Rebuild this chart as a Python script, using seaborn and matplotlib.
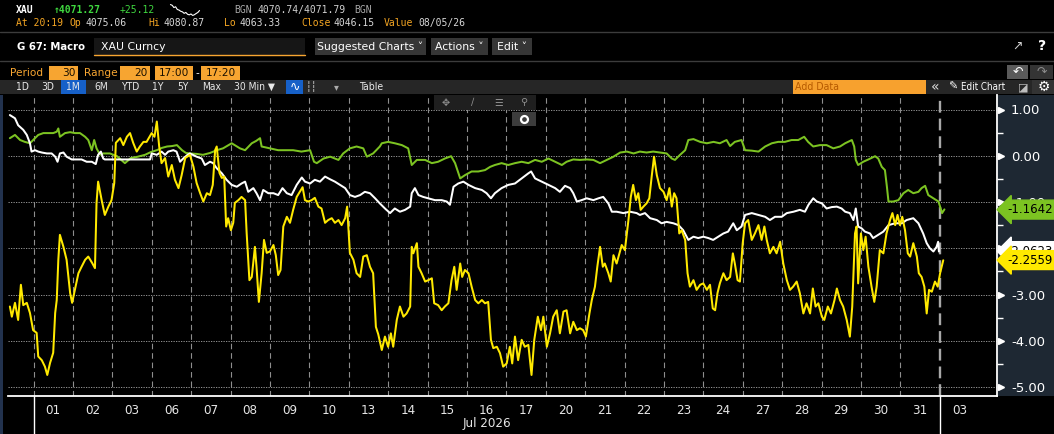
import matplotlib
matplotlib.use("Agg")
import matplotlib.pyplot as plt
from matplotlib.patches import Rectangle
from matplotlib.lines import Line2D
import numpy as np
import pandas as pd
import seaborn as sns


# ---- values ----
# t = trading-session position (0 = start of Jul 01 session, one unit per session)
day_labels = ["01", "02", "03", "06", "07", "08", "09", "10", "13", "14", "15", "16",
              "17", "20", "21", "22", "23", "24", "27", "28", "29", "30", "31", "03"]
month_label = "Jul 2026"
y_ticks = [1.0, 0.0, -1.0, -2.0, -3.0, -4.0, -5.0]
y_minor = [0.5, -0.5, -1.5, -2.5, -3.5, -4.5]
last_green = -1.1642
last_white = -2.0623
last_yellow = -2.2559

yellow_pts = [
    (-0.60, -3.26), (-0.55, -3.48), (-0.47, -3.18), (-0.39, -3.55), (-0.32, -2.79), (-0.26, -3.23), (-0.17, -3.18), (-0.09, -3.40), (-0.01, -3.77),
    (0.08, -3.83), (0.12, -4.34), (0.21, -4.42), (0.29, -4.56), (0.35, -4.74), (0.42, -4.48), (0.50, -4.26), (0.55, -3.40), (0.59, -3.12), (0.63, -2.25), (0.67, -1.71), (0.76, -1.97), (0.84, -2.25), (0.93, -2.97), (0.98, -3.18),
    (1.05, -2.90), (1.14, -2.54), (1.22, -2.40), (1.31, -2.25), (1.39, -2.18), (1.49, -2.32), (1.56, -2.43), (1.60, -1.02), (1.64, -0.56), (1.73, -0.96), (1.81, -1.28), (1.90, -1.10), (1.98, -0.96),
    (2.05, -0.59), (2.09, 0.28), (2.20, 0.38), (2.28, 0.23), (2.37, 0.41), (2.45, 0.49), (2.53, 0.28), (2.62, 0.09), (2.70, 0.20), (2.79, 0.30), (2.87, 0.30),
    (3.00, 0.49), (3.07, 0.41), (3.13, 0.74), (3.19, 0.20), (3.25, -0.16), (3.34, -0.05), (3.42, -0.45), (3.51, -0.20), (3.59, -0.52), (3.68, -0.70), (3.76, -0.42), (3.85, -0.05), (3.97, 0.02),
    (4.06, -0.24), (4.14, -0.59), (4.23, -0.81), (4.31, -0.99), (4.40, -0.81), (4.48, -0.85), (4.55, -0.63), (4.61, 0.12), (4.65, 0.20), (4.72, -0.37), (4.78, -0.48), (4.84, -0.45), (4.89, -1.53), (4.94, -1.35),
    (5.01, -1.61), (5.07, -1.45), (5.11, -1.02), (5.20, -0.96), (5.28, -0.89), (5.37, -0.96), (5.41, -1.67), (5.48, -2.69), (5.54, -2.62), (5.62, -1.97), (5.66, -2.40), (5.72, -3.16), (5.79, -2.54), (5.85, -1.82), (5.92, -2.10),
    (6.00, -2.07), (6.09, -1.93), (6.15, -2.15), (6.21, -2.58), (6.27, -2.47), (6.34, -1.53), (6.43, -1.32), (6.51, -1.45), (6.59, -1.17), (6.68, -0.89), (6.76, -0.78), (6.83, -0.68), (6.89, -0.96), (6.97, -0.99),
    (7.06, -0.96), (7.14, -0.91), (7.23, -1.10), (7.31, -1.14), (7.40, -1.45), (7.48, -1.39), (7.57, -1.35), (7.65, -1.45), (7.74, -1.39), (7.82, -1.50), (7.91, -1.35), (7.96, -1.10),
    (8.03, -2.10), (8.12, -2.25), (8.20, -2.54), (8.29, -2.62), (8.37, -2.18), (8.46, -2.15), (8.54, -2.40), (8.62, -2.54), (8.69, -3.70), (8.75, -3.86), (8.84, -4.20), (8.92, -3.91),
    (9.00, -4.13), (9.07, -3.84), (9.13, -4.13), (9.22, -3.55), (9.30, -3.26), (9.39, -3.48), (9.47, -3.41), (9.56, -3.26), (9.60, -1.97), (9.64, -2.11), (9.73, -1.89), (9.77, -2.40), (9.85, -2.54), (9.94, -2.72),
    (10.02, -2.69), (10.11, -2.65), (10.17, -3.19), (10.27, -3.23), (10.36, -3.34), (10.44, -3.26), (10.53, -3.19), (10.61, -2.69), (10.68, -2.40), (10.74, -2.90), (10.83, -2.33), (10.88, -2.62), (10.95, -2.47),
    (11.04, -2.54), (11.12, -2.83), (11.21, -3.12), (11.29, -3.19), (11.38, -3.12), (11.46, -3.19), (11.54, -3.16), (11.61, -3.98), (11.67, -4.16), (11.76, -4.13), (11.84, -4.27), (11.92, -4.56),
    (12.01, -4.49), (12.09, -4.13), (12.15, -4.49), (12.22, -3.91), (12.30, -4.42), (12.39, -3.98), (12.47, -4.13), (12.56, -4.09), (12.64, -4.74), (12.71, -3.98), (12.80, -3.48), (12.88, -3.77), (12.94, -3.48),
    (13.03, -4.13), (13.11, -3.84), (13.19, -3.48), (13.28, -3.34), (13.36, -3.84), (13.45, -3.37), (13.53, -3.34), (13.62, -3.84), (13.70, -3.59), (13.79, -3.77), (13.87, -3.73), (13.95, -3.77),
    (14.02, -3.91), (14.11, -3.41), (14.17, -3.12), (14.25, -2.83), (14.31, -2.40), (14.38, -1.97), (14.45, -2.40), (14.50, -2.33), (14.59, -2.54), (14.65, -2.72), (14.72, -2.15), (14.80, -2.33), (14.87, -2.11), (14.93, -1.93),
    (15.01, -2.04), (15.10, -1.39), (15.16, -0.89), (15.22, -0.63), (15.29, -0.96), (15.35, -0.81), (15.41, -1.17), (15.48, -1.10), (15.56, -1.03), (15.63, -0.92), (15.69, -0.45), (15.75, -0.02), (15.82, -0.42), (15.90, -0.70), (15.99, -0.78),
    (16.07, -0.96), (16.14, -0.70), (16.20, -1.10), (16.26, -0.81), (16.32, -0.92), (16.39, -1.68), (16.45, -1.61), (16.54, -1.82), (16.60, -2.54), (16.66, -2.83), (16.75, -2.69), (16.83, -2.90), (16.92, -2.79),
    (17.00, -2.76), (17.09, -2.90), (17.17, -2.79), (17.24, -3.30), (17.30, -3.34), (17.36, -2.97), (17.42, -2.76), (17.51, -2.54), (17.59, -2.69), (17.68, -2.62), (17.75, -2.11), (17.80, -2.33), (17.87, -2.69), (17.93, -2.72),
    (18.00, -1.89), (18.06, -1.46), (18.14, -1.39), (18.23, -1.82), (18.31, -1.68), (18.40, -1.50), (18.48, -1.82), (18.55, -1.53), (18.61, -1.82), (18.69, -2.11), (18.78, -1.97), (18.86, -2.11), (18.95, -1.86),
    (19.03, -2.33), (19.12, -2.69), (19.20, -2.90), (19.28, -2.83), (19.37, -2.72), (19.45, -2.97), (19.54, -3.41), (19.62, -3.19), (19.71, -3.41), (19.78, -2.87), (19.85, -3.26), (19.92, -3.19),
    (20.01, -3.48), (20.07, -3.55), (20.16, -3.26), (20.24, -3.41), (20.33, -3.12), (20.39, -2.87), (20.47, -3.12), (20.55, -3.26), (20.64, -3.55), (20.72, -3.91), (20.78, -3.26), (20.85, -1.68), (20.89, -1.53), (20.93, -2.76),
    (21.00, -1.68), (21.06, -2.04), (21.12, -1.75), (21.19, -2.40), (21.27, -2.83), (21.34, -3.16), (21.40, -2.83), (21.48, -2.04), (21.57, -2.11), (21.65, -1.68), (21.74, -1.39), (21.80, -1.24), (21.87, -1.50), (21.93, -1.28), (21.99, -1.50),
    (22.05, -1.32), (22.12, -1.61), (22.19, -2.11), (22.25, -2.18), (22.33, -1.89), (22.42, -2.18), (22.47, -2.54), (22.54, -2.62), (22.61, -2.83), (22.67, -3.41), (22.73, -2.90), (22.80, -2.94), (22.88, -2.72), (22.95, -2.83),
    (23.01, -2.54), (23.09, -2.26),
]

green_pts = [
    (-0.60, 0.38), (-0.47, 0.45), (-0.34, 0.34), (-0.22, 0.30), (-0.09, 0.27), (0.04, 0.38), (0.12, 0.45), (0.25, 0.49), (0.38, 0.49), (0.50, 0.49), (0.59, 0.52), (0.63, 0.59), (0.67, 0.41), (0.80, 0.49), (0.93, 0.51),
    (1.05, 0.49), (1.18, 0.49), (1.31, 0.41), (1.39, 0.34), (1.48, 0.12), (1.54, 0.34), (1.60, 0.16), (1.69, 0.02), (1.77, 0.05), (1.94, 0.05),
    (2.12, -0.01), (2.32, -0.16), (2.47, -0.05), (2.65, -0.02), (2.83, 0.02), (2.98, 0.08),
    (3.13, 0.12), (3.26, 0.17), (3.39, 0.20), (3.52, 0.21), (3.64, 0.23), (3.77, 0.12), (3.87, 0.06), (3.97, 0.05),
    (4.14, 0.04), (4.30, 0.02), (4.48, 0.06), (4.65, 0.12), (4.81, 0.16), (5.03, 0.27), (5.24, 0.16), (5.37, 0.12), (5.54, 0.27), (5.65, 0.32), (5.75, 0.38), (5.79, 0.20),
    (6.00, 0.16), (6.21, 0.12), (6.43, 0.12), (6.59, 0.12), (6.80, 0.09), (7.02, 0.12), (7.12, -0.13), (7.19, -0.16), (7.36, -0.06), (7.53, -0.02), (7.74, -0.09), (7.86, 0.05),
    (8.03, 0.16), (8.20, 0.20), (8.37, 0.16), (8.46, -0.02), (8.62, 0.05), (8.79, 0.20), (8.84, 0.27), (9.00, 0.30), (9.17, 0.27), (9.35, 0.23), (9.51, 0.16), (9.60, -0.20), (9.73, -0.09), (9.94, -0.09),
    (10.11, -0.16), (10.27, -0.13), (10.44, -0.06), (10.60, -0.01), (10.70, -0.16), (10.83, -0.49), (10.95, -0.42), (11.12, -0.34), (11.29, -0.34), (11.46, -0.31), (11.59, -0.24), (11.71, -0.20), (11.88, -0.16),
    (12.05, -0.20), (12.22, -0.16), (12.39, -0.13), (12.56, -0.16), (12.73, -0.09), (12.90, -0.13), (13.07, -0.06), (13.24, -0.13), (13.41, -0.20), (13.53, -0.13), (13.70, -0.08), (13.87, -0.09),
    (14.04, -0.08), (14.21, -0.09), (14.38, -0.16), (14.55, -0.09), (14.72, -0.02), (14.89, 0.07), (15.06, 0.09), (15.23, 0.05), (15.39, 0.09), (15.56, 0.07), (15.73, 0.09), (15.90, 0.07),
    (16.07, 0.05), (16.20, -0.06), (16.28, -0.09), (16.41, 0.02), (16.54, 0.12), (16.62, 0.34), (16.75, 0.36), (16.92, 0.30), (17.09, 0.27), (17.26, 0.30), (17.42, 0.27), (17.59, 0.34), (17.68, 0.21), (17.80, 0.30), (17.97, 0.34),
    (18.06, 0.12), (18.23, 0.11), (18.40, 0.09), (18.57, 0.20), (18.74, 0.27), (18.90, 0.30), (19.07, 0.30), (19.24, 0.34), (19.41, 0.34), (19.56, 0.41), (19.66, 0.30), (19.79, 0.20), (19.96, 0.23),
    (20.13, 0.23), (20.30, 0.16), (20.47, 0.20), (20.60, 0.27), (20.77, 0.34), (20.83, 0.20), (20.87, -0.09), (20.93, -0.20), (21.06, -0.13), (21.19, -0.08), (21.36, -0.01), (21.44, -0.06), (21.53, -0.24), (21.61, -0.31), (21.66, -0.67), (21.70, -0.99), (21.82, -0.99), (21.95, -0.96),
    (22.08, -0.81), (22.20, -0.74), (22.33, -0.81), (22.46, -0.78), (22.54, -0.70), (22.63, -0.65), (22.71, -0.85), (22.84, -0.92), (22.97, -0.99), (23.06, -1.24), (23.12, -1.16),
]

white_pts = [
    (-0.60, 0.88), (-0.47, 0.81), (-0.39, 0.66), (-0.26, 0.56), (-0.17, 0.45), (-0.09, 0.27), (-0.05, 0.09), (0.04, 0.12), (0.12, 0.09), (0.21, 0.07), (0.34, 0.05), (0.46, 0.05), (0.55, -0.02), (0.61, -0.13), (0.67, 0.05), (0.76, 0.07), (0.84, -0.02), (0.97, -0.08),
    (1.10, -0.08), (1.22, -0.08), (1.35, -0.13), (1.48, -0.13), (1.58, -0.18), (1.64, 0.02), (1.71, 0.09), (1.77, -0.06), (1.81, -0.08), (2.96, -0.08),
    (3.00, 0.05), (3.13, 0.02), (3.25, 0.09), (3.34, 0.02), (3.42, 0.09), (3.55, 0.12), (3.63, 0.09), (3.72, -0.13), (3.80, -0.06), (3.91, 0.02), (3.97, 0.05),
    (4.14, -0.02), (4.27, -0.06), (4.35, -0.20), (4.48, -0.13), (4.56, -0.16), (4.65, -0.27), (4.78, -0.38), (4.90, -0.52), (5.03, -0.63), (5.16, -0.67), (5.28, -0.60), (5.37, -0.56), (5.45, -0.78), (5.58, -0.70), (5.66, -0.81), (5.75, -0.96), (5.83, -0.74), (5.96, -0.81),
    (6.09, -0.81), (6.21, -0.85), (6.32, -0.70), (6.43, -0.81), (6.55, -0.85), (6.68, -0.63), (6.81, -0.47), (6.89, -0.56), (7.02, -0.60), (7.14, -0.52), (7.27, -0.56), (7.40, -0.45), (7.53, -0.51), (7.65, -0.56), (7.78, -0.63), (7.91, -0.70),
    (8.03, -0.85), (8.16, -0.89), (8.29, -0.85), (8.41, -0.78), (8.54, -0.81), (8.67, -0.92), (8.79, -1.03), (8.92, -1.14), (9.05, -1.24), (9.17, -1.14), (9.30, -1.21), (9.43, -1.17), (9.56, -1.10), (9.60, -0.81), (9.68, -0.70), (9.77, -0.85), (9.89, -0.89),
    (10.02, -0.92), (10.19, -0.96), (10.36, -0.96), (10.49, -0.99), (10.57, -1.06), (10.66, -0.67), (10.78, -0.60), (10.91, -0.56), (11.04, -0.63), (11.21, -0.70), (11.38, -0.74), (11.50, -0.81), (11.61, -0.92), (11.71, -0.81), (11.88, -0.70),
    (12.05, -0.63), (12.22, -0.60), (12.39, -0.49), (12.56, -0.38), (12.63, -0.34), (12.73, -0.49), (12.90, -0.56), (13.07, -0.63), (13.24, -0.70), (13.36, -0.78), (13.49, -0.65), (13.62, -0.70), (13.70, -0.81), (13.79, -0.99), (13.91, -0.96),
    (14.04, -0.92), (14.21, -0.96), (14.34, -0.92), (14.46, -0.89), (14.59, -1.03), (14.68, -1.21), (14.80, -1.21), (14.97, -1.24), (15.14, -1.21), (15.31, -1.24), (15.39, -1.28), (15.52, -1.24), (15.65, -1.35), (15.82, -1.39), (15.94, -1.46),
    (16.07, -1.43), (16.24, -1.46), (16.37, -1.50), (16.49, -1.61), (16.62, -1.82), (16.75, -1.75), (16.87, -1.78), (17.00, -1.75), (17.13, -1.78), (17.25, -1.82), (17.38, -1.75), (17.51, -1.68), (17.63, -1.64), (17.76, -1.46), (17.85, -1.61), (17.97, -1.53),
    (18.06, -1.28), (18.23, -1.24), (18.40, -1.28), (18.57, -1.32), (18.69, -1.39), (18.82, -1.32), (18.99, -1.32), (19.12, -1.24), (19.29, -1.21), (19.45, -1.17), (19.58, -1.21), (19.67, -1.06), (19.79, -0.92), (19.88, -0.99),
    (20.01, -1.03), (20.13, -1.14), (20.26, -1.11), (20.39, -1.10), (20.51, -1.14), (20.60, -1.21), (20.72, -1.24), (20.81, -1.39), (20.87, -1.14), (20.93, -1.53), (21.02, -1.57), (21.10, -1.64), (21.23, -1.68), (21.31, -1.78), (21.44, -1.71), (21.57, -1.64), (21.70, -1.50), (21.87, -1.46),
    (22.04, -1.46), (22.16, -1.39), (22.33, -1.35), (22.46, -1.46), (22.58, -1.68), (22.67, -1.89), (22.75, -2.00), (22.84, -2.07), (22.92, -1.97), (22.96, -1.86), (22.98, -2.07),
]

# tiny intraday sparkline next to the quote
spark = [0.95, 0.9, 0.75, 0.8, 0.62, 0.58, 0.5, 0.46, 0.36, 0.42, 0.3, 0.26, 0.32, 0.22, 0.27, 0.35, 0.42, 0.55]

# header strings
quote_row = [("XAU", "white", 16), ("\u21914071.27", "#3fd83f", 54), ("+25.12", "#3fd83f", 120),
             ("BGN", "#a8a8a8", 234), ("4070.74/4071.79", "#d0d0d0", 258), ("BGN", "#a8a8a8", 354)]
stats_row = [("At 20:19", "#f5a623", 16), ("Op", "#f5a623", 70), ("4075.06", "#d8d8d8", 86),
             ("Hi", "#f5a623", 148), ("4080.87", "#d8d8d8", 163), ("Lo", "#f5a623", 224),
             ("4063.33", "#d8d8d8", 239), ("Close", "#f5a623", 301), ("4046.15", "#d8d8d8", 333),
             ("Value", "#f5a623", 384), ("08/05/26", "#d8d8d8", 418)]
period_list = ["1D", "3D", "1M", "6M", "YTD", "1Y", "5Y", "Max", "30 Min \u25bc"]


W, H = 1054, 434
ORANGE = "#f7a531"


def fx(x):
    return x / W


def fy(y):
    return 1 - y / H


def box(x0, y0, x1, y1, color, z=2):
    fig.add_artist(Rectangle((fx(x0), fy(y1)), fx(x1) - fx(x0), fy(y0) - fy(y1),
                             transform=fig.transFigure, facecolor=color, edgecolor="none", zorder=z))


def label(x, y, s, color="white", size=8, z=3, **kw):
    fig.text(fx(x), fy(y), s, color=color, fontsize=size, va="center", zorder=z, **kw)


sns.set_theme(style="dark", rc={"axes.facecolor": "black", "figure.facecolor": "black"})
plt.rcParams["font.family"] = ["DejaVu Sans"]
NARROW = ["Liberation Sans Narrow", "DejaVu Sans"]
MONO = ["DejaVu Sans Mono"]

fig = plt.figure(figsize=(W / 100, H / 100), dpi=100)
fig.patch.set_facecolor("black")

# ---- main chart ----
px_left, px_right, px_top, px_bot = 8, 997, 95, 396
x_origin, x_step = 33.5, 39.4          # pixel of session 0 and pixels per session
y_zero, y_step = 155.75, 46.25         # pixel of 0.00 and pixels per unit

ax = fig.add_axes([fx(px_left), fy(px_bot), (px_right - px_left) / W, (px_bot - px_top) / H])
ax.set_facecolor("black")
ax.grid(False)

for v in y_ticks:
    ax.axhline(v, color="#a8a8a8", lw=0.6, ls=(0, (1.5, 1.5)), zorder=1)
for k in range(len(day_labels)):
    if k == len(day_labels) - 1:
        ax.axvline(k, color="#a8a8a8", lw=1.7, ls=(0, (5, 2.5)), zorder=1)
    else:
        ax.axvline(k, color="#8e8e8e", lw=0.8, ls=(0, (5, 3.5)), zorder=1)

for pts, col in [(green_pts, "#7cc322"), (white_pts, "#ffffff"), (yellow_pts, "#ffe900")]:
    df = pd.DataFrame(pts, columns=["t", "v"])
    sns.lineplot(data=df, x="t", y="v", ax=ax, color=col, lw=1.45,
                 estimator=None, sort=False, zorder=3)

ax.set_xlim((px_left - x_origin) / x_step, (px_right - x_origin) / x_step)
ax.set_ylim((y_zero - px_bot) / y_step, (y_zero - px_top) / y_step)
ax.set_xlabel("")
ax.set_ylabel("")

ax.set_xticks([k + 0.5 for k in range(len(day_labels))])
ax.set_xticklabels(day_labels, fontfamily=NARROW, fontstretch="condensed")
ax.tick_params(axis="x", length=0, pad=6, colors="#e6e6e6", labelsize=9.5)

ax.yaxis.tick_right()
ax.set_yticks(y_ticks)
ax.set_yticklabels([f"{v:.2f}" for v in y_ticks])
ax.set_yticks(y_minor, minor=True)
ax.tick_params(axis="y", which="major", length=0, pad=10, colors="white", labelsize=9.5)
ax.tick_params(axis="y", which="minor", length=4, width=1, color="white", direction="out")
ax.plot([1.004] * len(y_ticks), y_ticks, transform=ax.get_yaxis_transform(), ls="none",
        marker=">", ms=5, color="white", clip_on=False, zorder=6)

for s in ["top", "left"]:
    ax.spines[s].set_visible(False)
for s in ["bottom", "right"]:
    ax.spines[s].set_color("white")
    ax.spines[s].set_linewidth(1.3)

below = -(H - px_bot) / (px_bot - px_top)
for k in [0, len(day_labels) - 1]:
    ax.plot([k, k], [0, below], transform=ax.get_xaxis_transform(), color="white",
            lw=1.0, clip_on=False)
ax.text((len(day_labels) - 1) / 2, -(424 - px_bot) / (px_bot - px_top), month_label,
        transform=ax.get_xaxis_transform(), ha="center", va="center", color="#e6e6e6",
        fontsize=9.5, fontfamily=NARROW, fontstretch="condensed")

# last-value tags on the price axis
for v, col in [(last_green, "#7cc322"), (last_white, "#ffffff"), (last_yellow, "#ffe900")]:
    ax.text(1.0105, v, f"{v:.4f}", transform=ax.get_yaxis_transform(), ha="left", va="center",
            fontsize=8.5, color="black", clip_on=False, zorder=8,
            bbox=dict(boxstyle="larrow,pad=0.25", fc=col, ec=col))

# price axis background + window edge
box(998, 95, W, 396, "#1e2833", z=-1)
box(0, 95, 3, H, "#22324e", z=-1)

# ---- header ----
for s, col, x in quote_row:
    weight = "bold" if s in ("XAU", "\u21914071.27") else "normal"
    label(x, 10, s, col, size=7.0, fontweight=weight, family=MONO)
sp = fig.add_axes([fx(169), fy(16), fx(32), 12 / H])
sns.lineplot(x=np.arange(len(spark)), y=spark, ax=sp, color="white", lw=0.8)
sp.axis("off")

for s, col, x in stats_row:
    label(x, 23, s, col, size=7.0, family=MONO)

fig.add_artist(Line2D([0, 1], [fy(32), fy(32)], transform=fig.transFigure, color="#3c3c3c", lw=1))
fig.add_artist(Line2D([0, 1], [fy(61), fy(61)], transform=fig.transFigure, color="#3c3c3c", lw=1))

label(17, 46.5, "G 67: Macro", size=7.3, fontweight="bold")
box(94, 38, 305, 55, "#161616")
fig.add_artist(Line2D([fx(94), fx(305)], [fy(54.5), fy(54.5)], transform=fig.transFigure, color=ORANGE, lw=1))
label(101, 46.5, "XAU Curncy", size=7.8)
for x0, x1, s in [(315, 426, "Suggested Charts \u02c5"), (431, 488, "Actions \u02c5"), (492, 532, "Edit \u02c5")]:
    box(x0, 38, x1, 55, "#363636")
    label((x0 + x1) / 2, 46.5, s, size=7.8, ha="center")
label(1017, 46, "\u2197", "#cfcfcf", size=9, ha="center")
label(1042, 46, "?", "white", size=10, ha="center", fontweight="bold")

label(10, 73, "Period", ORANGE, size=7.6)
for x0, x1, s, al in [(49, 78, "30", "right"), (120, 150, "20", "right"),
                      (155, 193, "17:00", "center"), (201, 240, "17:20", "center")]:
    box(x0, 66, x1, 80, ORANGE)
    tx = x1 - 2 if al == "right" else (x0 + x1) / 2
    label(tx, 73, s, "#1a1000", size=7.6, ha=al)
label(84, 73, "Range", ORANGE, size=7.6)
label(197, 73, "-", "white", size=7.6, ha="center")
box(1007, 65, 1028, 79, "#5a5a5a")
box(1030, 65, 1053, 79, "#343434")
label(1017.5, 72, "\u21b6", "white", size=9, ha="center")
label(1041.5, 72, "\u21b7", "#8a8a8a", size=9, ha="center")

# toolbar band
box(0, 80, W, 94, "#262626")
box(61, 80, 86, 94, "#1660c8")
for s, cx in zip(period_list, [22, 48, 73, 101, 130, 158, 183, 212, 254]):
    label(cx, 87, s, "#e8e8e8", size=7.4, ha="center", family=NARROW, fontstretch="condensed")
box(286, 80, 303, 94, "#1660c8")
label(294.5, 87, "\u223f", "white", size=9, ha="center")
label(311, 87, "\u2506\u2506", "#dddddd", size=7, ha="center")
label(336, 87.5, "\u25be", "#aaaaaa", size=7, ha="center")
label(371, 87, "Table", "#e8e8e8", size=7.6, ha="center", family=NARROW, fontstretch="condensed")
box(793, 80, 926, 94, "#f7a12e")
label(795, 87, "Add Data", "#b65a00", size=7.6, family=NARROW, fontstretch="condensed")
label(935, 87, "\u00ab", "#dddddd", size=10, ha="center")
label(953, 87, "\u270e", "white", size=8, ha="center")
label(961, 87, "Edit Chart", "white", size=7.0, family=NARROW, fontstretch="condensed")
label(1023, 87, "\u25ea", "#bdbdbd", size=8, ha="center")
box(1032, 80, W, 94, "#333333")
label(1044, 87, "\u2699", "white", size=10, ha="center")

# floating chart toolbar
box(434, 95, 536, 110, "#1f1f1f", z=6)
for cx, g in zip([446, 473, 499, 524], ["\u2725", "\u2215", "\u2630", "\u26b2"]):
    label(cx, 102.5, g, "#8f8f8f", size=7, ha="center", z=7)
box(512, 112, 536, 126, "#3c3c3c", z=6)
fig.add_artist(Line2D([fx(524)], [fy(119)], transform=fig.transFigure, marker="o", ms=5,
                      mfc="#3c3c3c", mec="white", mew=1.6, ls="none", zorder=7))

fig.savefig("out.png", dpi=100, facecolor="black")
